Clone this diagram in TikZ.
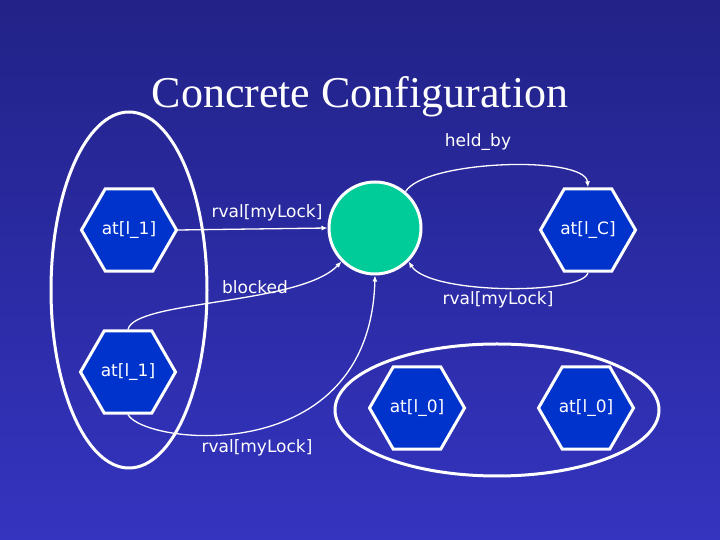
\documentclass[tikz,border=0pt]{standalone}
\usepackage{fontspec}
\setmainfont{Liberation Serif}
\newfontfamily\lblfont{DejaVu Sans}
\usetikzlibrary{arrows.meta,shapes.geometric}
\definecolor{bgtop}{RGB}{34,34,136}
\definecolor{bgbot}{RGB}{52,52,192}
\definecolor{hexblue}{RGB}{0,51,204}
\definecolor{lockgreen}{RGB}{0,204,153}
\tikzset{
  hexa/.style={regular polygon, regular polygon sides=6, draw=white, line width=3pt, fill=hexblue,
    minimum size=95pt, inner sep=0pt, text=white, font=\lblfont\fontsize{17}{20}\selectfont},
  lockstate/.style={circle, draw=white, line width=3pt, fill=lockgreen, minimum size=92pt},
  grp/.style={ellipse, draw=white, line width=3pt, inner sep=0pt},
  lbl/.style={text=white, font=\lblfont\fontsize{17}{20}\selectfont},
  arr/.style={-{Latex[length=6pt,width=5pt]}, white, line width=1.3pt},
}

\begin{document}
\begin{tikzpicture}[x=1pt, y=1pt]
  \shade[top color=bgtop, bottom color=bgbot] (0,0) rectangle (720,540);
  \useasboundingbox (0,0) rectangle (720,540);
  \node[anchor=base, text=white, font=\fontsize{44}{50}\selectfont] (title) at (360,432) {Concrete Configuration};
  % groups
  \node[grp, minimum width=156pt, minimum height=356pt] (left) at (129,250) {};
  \node[grp, minimum width=324pt, minimum height=132pt] (bottom) at (497,130) {};
  % states
  \node[hexa] (l1a) at (129,310) {at[l\_1]};
  \node[hexa] (l1b) at (128,168) {at[l\_1]};
  \node[hexa] (lc) at (588,310) {at[l\_C]};
  \node[hexa] (l0a) at (417,132) {at[l\_0]};
  \node[hexa] (l0b) at (586,132) {at[l\_0]};
  \node[lockstate] (lock) at (375,312) {};
  % edges
  \draw[arr] (l1a.east) -- (lock.west);
  \draw[arr] (lock.50) .. controls (425,380) and (585,385) .. (lc.north);
  \draw[arr] (lc.south) .. controls (583,245) and (430,245) .. (lock.-45);
  \draw[arr] (l1b.north) .. controls (135,240) and (300,235) .. (lock.-135);
  \draw[arr] (l1b.south) .. controls (145,95) and (370,70) .. (lock.south);
  % labels
  \node[lbl] (t1) at (267,327) {rval[myLock]};
  \node[lbl] (t2) at (478,398) {held\_by};
  \node[lbl] (t3) at (498,240) {rval[myLock]};
  \node[lbl] (t4) at (255,253) {blocked};
  \node[lbl] (t5) at (257,92) {rval[myLock]};
\end{tikzpicture}
\end{document}
